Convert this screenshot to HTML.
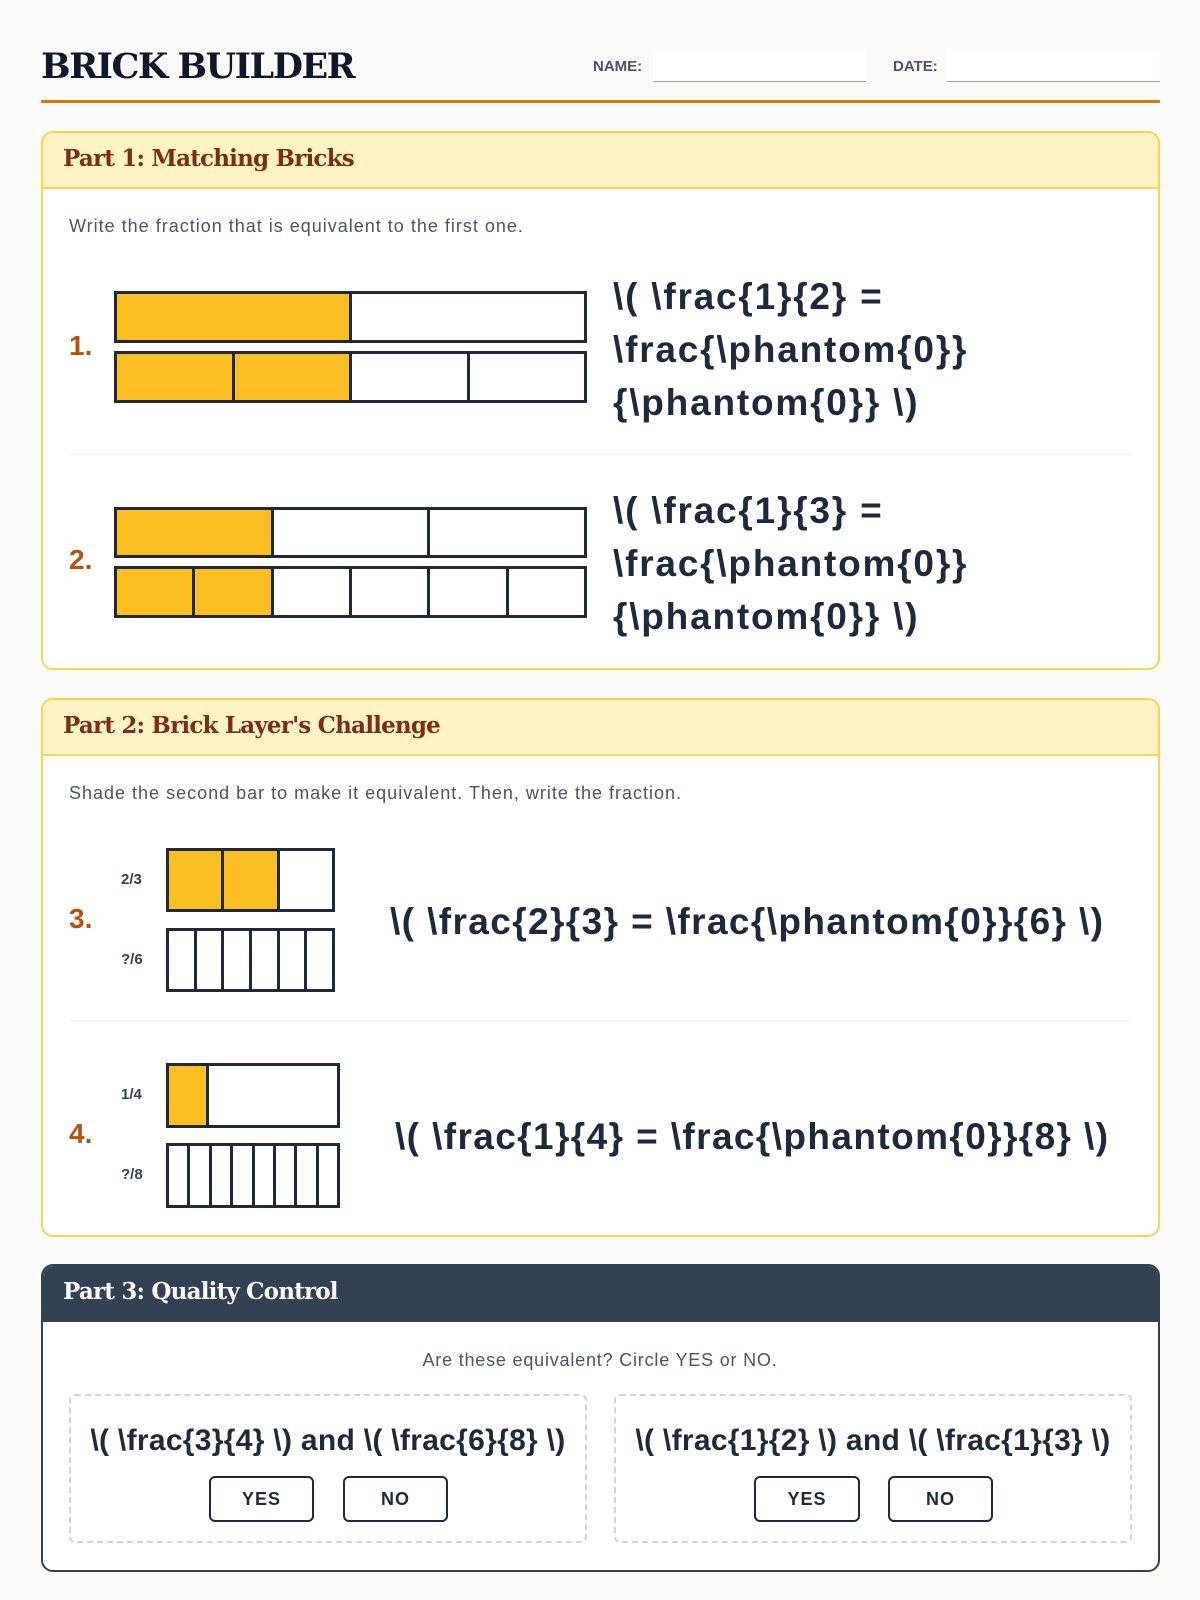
<!DOCTYPE html>
<html><head><meta charset="utf-8"><style>
*{box-sizing:border-box;margin:0;padding:0}
body{width:1200px;height:1600px;background:#fafaf9;position:relative;font-family:"Liberation Sans",sans-serif;color:#1e293b;overflow:hidden}
.a{position:absolute}
.title{left:41px;top:46px;font-family:"DejaVu Serif",serif;font-weight:bold;font-size:35px;color:#0f172a;letter-spacing:-1.5px}
.lbl{font-size:15px;color:#475569;font-weight:bold}
.line{border-bottom:1.5px solid #94a3b8;background:#fff;height:32px}
.box{left:41px;width:1119px;border:2px solid #fcd34d;border-radius:12px;background:#fff;overflow:hidden}
.hdr{position:absolute;left:0;top:0;right:0;height:56px;background:#fef3c7;border-bottom:2px solid #fcd34d;font-family:"DejaVu Serif",serif;font-weight:bold;font-size:23px;color:#7c2d12;padding:12px 0 0 20px;letter-spacing:-0.8px}
.ins{font-size:18px;color:#475569;letter-spacing:1px}
.num{font-size:28px;font-weight:bold;color:#b45309}
.math{font-size:37px;font-weight:bold;color:#1e293b;line-height:53px;white-space:nowrap;letter-spacing:1.4px}
.sep{height:1px;background:#f1f1ef;left:69px;width:1063px}
.bar{display:flex;border:3px solid #1e293b;background:#fff}
.bar div{flex:1;border-right:3px solid #1e293b}
.bar div:last-child{border-right:none}
.y{background:#fbbf24}
.sm{font-size:15px;font-weight:bold;color:#334155}
.btn{border:2px solid #1e293b;border-radius:6px;background:#fff;font-weight:bold;font-size:18px;text-align:center;line-height:42px;color:#1e293b;letter-spacing:1px}
.dash{border:2px dashed #d1d5db;border-radius:6px}
</style></head><body>
<div class="a title">BRICK BUILDER</div>
<div class="a lbl" style="left:593px;top:58px">NAME:</div>
<div class="a line" style="left:653px;top:50px;width:213px"></div>
<div class="a lbl" style="left:893px;top:58px">DATE:</div>
<div class="a line" style="left:947px;top:50px;width:213px"></div>
<div class="a" style="left:41px;top:100px;width:1119px;height:3px;background:#d97706"></div>

<div class="a box" style="top:131px;height:539px"><div class="hdr">Part 1: Matching Bricks</div></div>
<div class="a ins" style="left:69px;top:216px">Write the fraction that is equivalent to the first one.</div>
<div class="a num" style="left:69px;top:330px">1.</div>
<div class="a bar" style="left:114px;top:291px;width:473px;height:52px"><div class="y"></div><div></div></div>
<div class="a bar" style="left:114px;top:351px;width:473px;height:52px"><div class="y"></div><div class="y"></div><div></div><div></div></div>
<div class="a math" style="left:613px;top:270px;letter-spacing:1.8px">\( \frac{1}{2} =<br>\frac{\phantom{0}}<br>{\phantom{0}} \)</div>
<div class="a sep" style="top:454px"></div>
<div class="a num" style="left:69px;top:544px">2.</div>
<div class="a bar" style="left:114px;top:507px;width:473px;height:51px"><div class="y"></div><div></div><div></div></div>
<div class="a bar" style="left:114px;top:566px;width:473px;height:52px"><div class="y"></div><div class="y"></div><div></div><div></div><div></div><div></div></div>
<div class="a math" style="left:613px;top:484px;letter-spacing:1.8px">\( \frac{1}{3} =<br>\frac{\phantom{0}}<br>{\phantom{0}} \)</div>

<div class="a box" style="top:698px;height:539px"><div class="hdr">Part 2: Brick Layer's Challenge</div></div>
<div class="a ins" style="left:69px;top:783px">Shade the second bar to make it equivalent. Then, write the fraction.</div>
<div class="a num" style="left:69px;top:903px">3.</div>
<div class="a sm" style="left:121px;top:871px">2/3</div>
<div class="a sm" style="left:121px;top:951px">?/6</div>
<div class="a bar" style="left:166px;top:848px;width:169px;height:64px"><div class="y"></div><div class="y"></div><div></div></div>
<div class="a bar" style="left:166px;top:928px;width:169px;height:64px"><div></div><div></div><div></div><div></div><div></div><div></div></div>
<div class="a math" style="left:390px;top:895px">\( \frac{2}{3} = \frac{\phantom{0}}{6} \)</div>
<div class="a sep" style="top:1020px"></div>
<div class="a num" style="left:69px;top:1118px">4.</div>
<div class="a sm" style="left:121px;top:1086px">1/4</div>
<div class="a sm" style="left:121px;top:1166px">?/8</div>
<div class="a bar" style="left:166px;top:1063px;width:174px;height:65px"><div class="y" style="flex:0 0 40px"></div><div></div></div>
<div class="a bar" style="left:166px;top:1143px;width:174px;height:65px"><div></div><div></div><div></div><div></div><div></div><div></div><div></div><div></div></div>
<div class="a math" style="left:395px;top:1110px">\( \frac{1}{4} = \frac{\phantom{0}}{8} \)</div>

<div class="a box" style="top:1264px;height:308px;border-color:#334155"><div class="hdr" style="background:#334155;border-color:#334155;color:#fff">Part 3: Quality Control</div></div>
<div class="a ins" style="left:0;width:1200px;text-align:center;top:1350px;letter-spacing:0.8px">Are these equivalent? Circle YES or NO.</div>
<div class="a dash" style="left:69px;top:1394px;width:518px;height:149px"></div>
<div class="a dash" style="left:614px;top:1394px;width:518px;height:149px"></div>
<div class="a math" style="left:69px;width:518px;text-align:center;top:1414px;font-size:30px;letter-spacing:0.3px">\( \frac{3}{4} \) and \( \frac{6}{8} \)</div>
<div class="a math" style="left:614px;width:518px;text-align:center;top:1414px;font-size:30px;letter-spacing:0.3px">\( \frac{1}{2} \) and \( \frac{1}{3} \)</div>
<div class="a btn" style="left:209px;top:1476px;width:105px;height:46px">YES</div>
<div class="a btn" style="left:343px;top:1476px;width:105px;height:46px">NO</div>
<div class="a btn" style="left:754px;top:1476px;width:106px;height:46px">YES</div>
<div class="a btn" style="left:888px;top:1476px;width:105px;height:46px">NO</div>
</body></html>
